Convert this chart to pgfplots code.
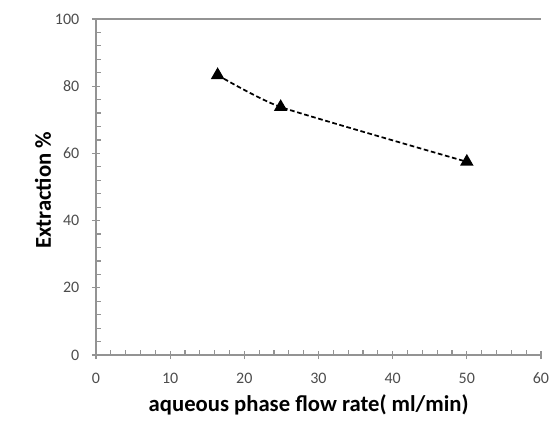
\documentclass[border=0pt]{standalone}
\usepackage{fontspec}
\setmainfont{Carlito}
\usepackage{pgfplots}
\pgfplotsset{compat=1.18}
\begin{document}
\begin{tikzpicture}
\path[use as bounding box] (-72pt,-61.5pt) rectangle (341.25pt,266.25pt);
\begin{axis}[
  at={(0,0)}, anchor=south west,
  scale only axis,
  width=333.75pt, height=252pt,
  xmin=0, xmax=60, ymin=0, ymax=100,
  xtick={0,10,...,60}, ytick={0,20,...,100},
  minor x tick num=4, minor y tick num=4,
  axis x line=box, axis y line=left,
  xtick pos=bottom, ytick pos=left,
  axis line style={draw=gray!85, line width=1pt, -},
  tick style={draw=gray!85, line width=0.9pt},
  tick align=center,
  major tick length=6pt,
  minor tick length=4pt,
  minor x tick style={yshift=2pt},
  minor y tick style={xshift=2pt},
  /pgf/number format/assume math mode=true,
  ticklabel style={font=\fontsize{12}{14}\selectfont, text=black!70},
  xticklabel style={yshift=-7pt},
  yticklabel style={xshift=-6pt},
  clip=false,
]
\addplot[black, line width=1.3pt, dash pattern=on 3.5pt off 2pt, smooth, tension=0.3,
  mark=triangle*, mark size=4.6pt, mark options={solid, fill=black}]
  coordinates {(16.4,83.3) (24.9,73.8) (50,57.5)};
\node[anchor=center, font=\fontsize{17}{19}\selectfont\bfseries]
  at (rel axis cs:0.478,-0.149) {aqueous phase flow rate( ml/min)};
\node[anchor=center, rotate=90, font=\fontsize{17}{19}\selectfont\bfseries]
  at (rel axis cs:-0.119,0.49) {Extraction \%};
\end{axis}
\end{tikzpicture}
\end{document}
